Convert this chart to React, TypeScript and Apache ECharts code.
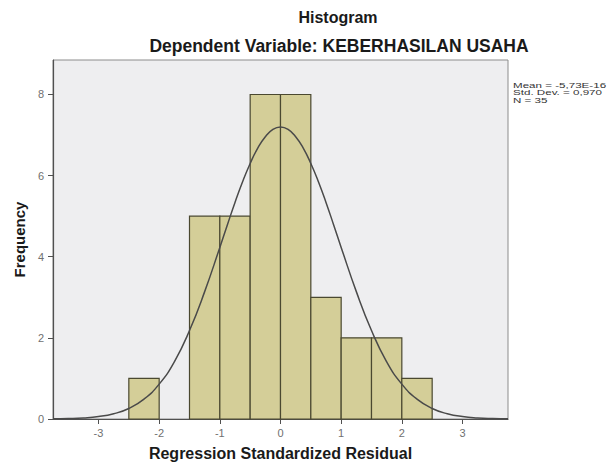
import React, { useEffect, useRef } from "react";
import * as echarts from "echarts";

// Histogram bins (regression standardized residual) and their counts
const binLow = [-2.5, -1.5, -1.0, -0.5, 0.0, 0.5, 1.0, 1.5, 2.0];
const binHigh = [-2.0, -1.0, -0.5, 0.0, 0.5, 1.0, 1.5, 2.0, 2.5];
const frequency = [1, 5, 5, 8, 8, 3, 2, 2, 1];

// Normal curve
const curveX = [
  -3.75, -3.5, -3.25, -3.0, -2.75, -2.5, -2.25, -2.0, -1.75, -1.5, -1.25, -1.0,
  -0.875, -0.75, -0.625, -0.5, -0.375, -0.25, -0.125, 0.0, 0.125, 0.25, 0.375,
  0.5, 0.625, 0.75, 0.875, 1.0, 1.25, 1.5, 1.75, 2.0, 2.25, 2.5, 2.75, 3.0,
  3.25, 3.5, 3.75,
];
const curveY = [
  0.004, 0.011, 0.026, 0.06, 0.13, 0.26, 0.49, 0.86, 1.41, 2.18, 3.14, 4.23,
  4.79, 5.34, 5.85, 6.3, 6.68, 6.96, 7.14, 7.2, 7.14, 6.96, 6.68, 6.3, 5.85,
  5.34, 4.79, 4.23, 3.14, 2.18, 1.41, 0.86, 0.49, 0.26, 0.13, 0.06, 0.026,
  0.011, 0.004,
];

const xTicks = [-3, -2, -1, 0, 1, 2, 3];
const yTicks = [0, 2, 4, 6, 8];

const titleText = "Histogram";
const subtitleText = "Dependent Variable: KEBERHASILAN USAHA";
const statLines = ["Mean = -5,73E-16", "Std. Dev. = 0,970", "N = 35"];
const xName = "Regression Standardized Residual";
const yName = "Frequency";

const FONT = 'Arial, "Liberation Sans", sans-serif';

export default function App() {
  const ref = useRef<HTMLDivElement>(null);

  useEffect(() => {
    if (!ref.current) return;
    const chart = echarts.init(ref.current, null, { renderer: "svg" });

    const barData = binLow.map((lo, i) => [lo, binHigh[i], frequency[i]]);
    const lineData = curveX.map((x, i) => [x, curveY[i]]);

    chart.setOption({
      animation: false,
      backgroundColor: "#ffffff",
      textStyle: { fontFamily: FONT },
      grid: {
        left: 53,
        top: 60,
        width: 455,
        height: 363,
        show: true,
        backgroundColor: "#EEEEF0",
        borderColor: "#8C8C8C",
        borderWidth: 1,
      },
      xAxis: {
        type: "value",
        min: -3.75,
        max: 3.75,
        name: xName,
        nameLocation: "middle",
        nameGap: 26,
        nameTextStyle: {
          fontFamily: FONT,
          fontWeight: "bold",
          fontSize: 16,
          color: "#1a1a1a",
        },
        splitLine: { show: false },
        axisLine: { show: true, onZero: false, lineStyle: { color: "#505050", width: 1.2 } },
        axisTick: {
          show: true,
          customValues: xTicks,
          length: 5,
          lineStyle: { color: "#505050" },
        },
        axisLabel: {
          customValues: xTicks,
          margin: 8,
          fontFamily: FONT,
          fontSize: 11,
          color: "#707070",
        },
      },
      yAxis: {
        type: "value",
        min: 0,
        max: 8.85,
        name: yName,
        nameLocation: "middle",
        nameGap: 24,
        nameTextStyle: {
          fontFamily: FONT,
          fontWeight: "bold",
          fontSize: 15,
          color: "#1a1a1a",
        },
        splitLine: { show: false },
        axisLine: { show: true, onZero: false, lineStyle: { color: "#505050", width: 1.2 } },
        axisTick: {
          show: true,
          customValues: yTicks,
          length: 5,
          lineStyle: { color: "#505050" },
        },
        axisLabel: {
          customValues: yTicks,
          margin: 9,
          fontFamily: FONT,
          fontSize: 11,
          color: "#707070",
        },
      },
      series: [
        {
          type: "custom",
          data: barData,
          encode: { x: [0, 1], y: 2 },
          z: 2,
          renderItem: (params: any, api: any) => {
            const lo = api.value(0);
            const hi = api.value(1);
            const f = api.value(2);
            const p0 = api.coord([lo, f]);
            const p1 = api.coord([hi, 0]);
            return {
              type: "rect",
              shape: {
                x: p0[0],
                y: p0[1],
                width: p1[0] - p0[0],
                height: p1[1] - p0[1],
              },
              style: { fill: "#D4CE98", stroke: "#4A4830", lineWidth: 1.2 },
            };
          },
        },
        {
          type: "line",
          data: lineData,
          smooth: true,
          showSymbol: false,
          symbol: "none",
          z: 3,
          lineStyle: { color: "#4a4a4a", width: 1.5 },
        },
      ],
      graphic: [
        {
          type: "text",
          x: 338,
          y: 17,
          style: {
            text: titleText,
            fontFamily: FONT,
            fontWeight: "bold",
            fontSize: 16,
            fill: "#1a1a1a",
            textAlign: "center",
            textVerticalAlign: "middle",
          },
        },
        {
          type: "text",
          x: 339,
          y: 46,
          style: {
            text: subtitleText,
            fontFamily: FONT,
            fontWeight: "bold",
            fontSize: 17.5,
            fill: "#1a1a1a",
            textAlign: "center",
            textVerticalAlign: "middle",
          },
        },
        {
          type: "text",
          x: 513,
          y: 81,
          scaleX: 1.45,
          style: {
            text: statLines.join("\n"),
            fontFamily: FONT,
            fontSize: 8,
            lineHeight: 7.5,
            fill: "#333333",
            textAlign: "left",
            textVerticalAlign: "top",
          },
        },
      ],
    });

    return () => chart.dispose();
  }, []);

  return (
    <div
      ref={ref}
      style={{ position: "absolute", left: 0, top: 0, width: 611, height: 466 }}
    />
  );
}
